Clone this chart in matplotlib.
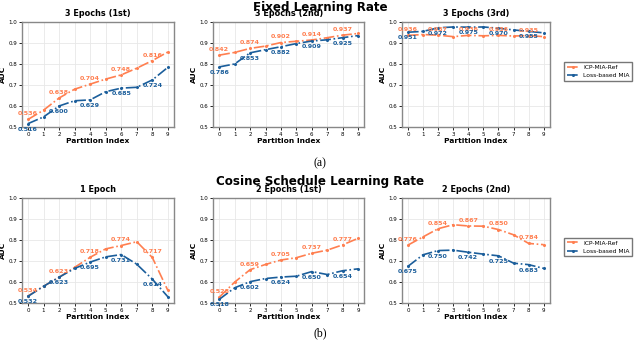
import numpy as np
import matplotlib.pyplot as plt

x = np.arange(10)

titles_top = ['3 Epochs (1st)', '3 Epochs (2nd)', '3 Epochs (3rd)']
titles_bot = ['1 Epoch', '2 Epochs (1st)', '2 Epochs (2nd)']

# ICP-MIA-Ref
ref_top = [
    [0.536, 0.580, 0.638, 0.680, 0.704, 0.728, 0.748, 0.780, 0.816, 0.857],
    [0.842, 0.855, 0.874, 0.885, 0.902, 0.908, 0.914, 0.925, 0.937, 0.945],
    [0.936, 0.940, 0.937, 0.930, 0.936, 0.934, 0.936, 0.933, 0.935, 0.930],
]
ref_bot = [
    [0.534, 0.580, 0.623, 0.670, 0.718, 0.758, 0.774, 0.792, 0.717, 0.560],
    [0.528, 0.600, 0.659, 0.684, 0.705, 0.716, 0.737, 0.752, 0.777, 0.808],
    [0.776, 0.815, 0.854, 0.873, 0.867, 0.866, 0.850, 0.825, 0.784, 0.778],
]
# Loss-based MIA
loss_top = [
    [0.516, 0.548, 0.600, 0.625, 0.629, 0.668, 0.685, 0.689, 0.724, 0.784],
    [0.786, 0.800, 0.853, 0.868, 0.882, 0.897, 0.909, 0.915, 0.925, 0.935],
    [0.951, 0.955, 0.972, 0.976, 0.975, 0.976, 0.970, 0.962, 0.955, 0.948],
]
loss_bot = [
    [0.532, 0.580, 0.623, 0.665, 0.695, 0.720, 0.731, 0.685, 0.614, 0.530],
    [0.518, 0.573, 0.602, 0.617, 0.624, 0.628, 0.650, 0.636, 0.654, 0.663],
    [0.675, 0.730, 0.750, 0.752, 0.742, 0.733, 0.725, 0.690, 0.683, 0.665],
]

c_ref = '#FF7F50'
c_loss = '#1B5E9B'

fig = plt.figure(figsize=(6.4, 3.48), dpi=100)

lefts = [0.034, 0.333, 0.628]
widths = [0.238, 0.236, 0.231]


def draw(ax, ref, loss, title):
    ax.plot(x, ref, linestyle='-.', marker='o', markersize=1.2, lw=1.2, color=c_ref, label='ICP-MIA-Ref')
    ax.plot(x, loss, linestyle='-.', marker='o', markersize=1.2, lw=1.2, color=c_loss, label='Loss-based MIA')
    for i in range(0, 10, 2):
        ax.annotate(f'{ref[i]:.3f}', (x[i], ref[i]), textcoords='offset points', xytext=(0, 4),
                    ha='center', va='center', fontsize=4.6, fontweight='bold', color=c_ref)
        ax.annotate(f'{loss[i]:.3f}', (x[i], loss[i]), textcoords='offset points', xytext=(0, -4),
                    ha='center', va='center', fontsize=4.6, fontweight='bold', color=c_loss)
    ax.set_ylim(0.5, 1.0)
    ax.set_xlim(-0.4, 9.4)
    ax.set_xticks(x)
    ax.set_yticks([0.5, 0.6, 0.7, 0.8, 0.9, 1.0])
    ax.tick_params(labelsize=4, length=2, width=0.6, pad=1.5)
    ax.grid(True, color='#e8e8e8', lw=0.6)
    for s in ax.spines.values():
        s.set_color('#888888')
        s.set_linewidth(1.0)
    ax.set_xlabel('Partition Index', fontsize=5.4, fontweight='bold', labelpad=1)
    ax.set_ylabel('AUC', fontsize=5.4, fontweight='bold', labelpad=1.5)
    ax.set_title(title, fontsize=5.9, fontweight='bold', pad=4)


for k in range(3):
    ax = fig.add_axes([lefts[k], 0.635, widths[k], 0.302])
    draw(ax, ref_top[k], loss_top[k], titles_top[k])
    if k == 2:
        h, l = ax.get_legend_handles_labels()
for k in range(3):
    ax = fig.add_axes([lefts[k], 0.129, widths[k], 0.302])
    draw(ax, ref_bot[k], loss_bot[k], titles_bot[k])

for yy in [1 - 71.5 / 348, 1 - 247 / 348]:
    fig.legend(h, l, loc='center left', bbox_to_anchor=(0.877, yy), fontsize=4.3,
               frameon=True, fancybox=False, edgecolor='#555555', handlelength=2.2,
               borderpad=0.4, labelspacing=0.5, handletextpad=0.6)

fig.text(0.5, 1 - 7 / 348, 'Fixed Learning Rate', ha='center', va='center', fontsize=8.6, fontweight='bold')
fig.text(0.5, 1 - 182 / 348, 'Cosine Schedule Learning Rate', ha='center', va='center', fontsize=8.6, fontweight='bold')
fig.text(0.5, 1 - 163 / 348, '(a)', ha='center', va='center', fontsize=8.5, family='Liberation Serif')
fig.text(0.5, 1 - 333 / 348, '(b)', ha='center', va='center', fontsize=8.5, family='Liberation Serif')

fig.savefig('out.png', dpi=100)
